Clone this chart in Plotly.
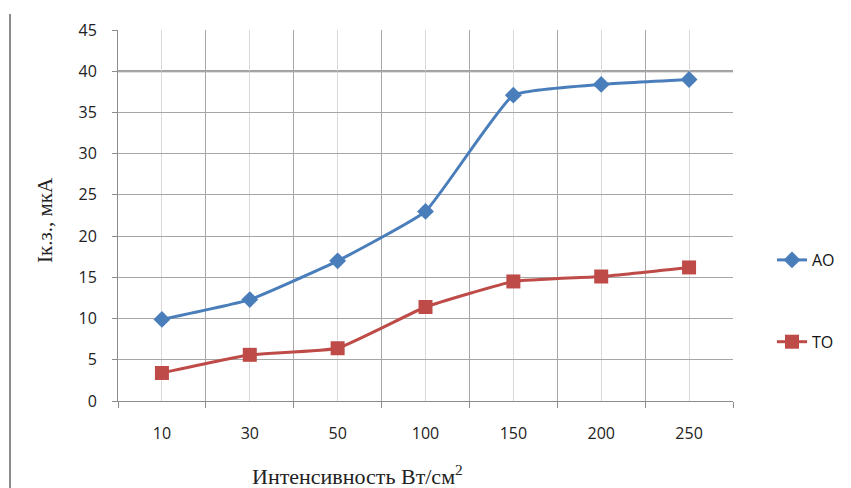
import plotly.graph_objects as go

categories = ["10", "30", "50", "100", "150", "200", "250"]
ao_values = [9.9, 12.3, 17.0, 23.0, 37.1, 38.4, 39.0]
to_values = [3.4, 5.6, 6.4, 11.4, 14.5, 15.1, 16.2]
y_ticks = [0, 5, 10, 15, 20, 25, 30, 35, 40, 45]

idx = list(range(len(categories)))

# page body adds an 8px offset; target plot area in screen px: x 118..733, y 30..401
OFF = 8
PL, PR, PT, PB = 118 - OFF, 733 - OFF, 30 - OFF, 401 - OFF
W, H = 851, 488
PW, PH = PR - PL, PB - PT


def px(sx):
    return (sx - OFF - PL) / PW


def py(sy):
    return (PB - (sy - OFF)) / PH


fig = go.Figure()
fig.add_trace(go.Scatter(
    x=idx, y=ao_values, name="АО", mode="lines+markers",
    line=dict(color="#4A7EBB", width=3, shape="spline", smoothing=0.35),
    marker=dict(symbol="diamond", size=13, color="#4A7EBB"),
    legendgroup="a",
))
fig.add_trace(go.Scatter(
    x=idx, y=to_values, name="ТО", mode="lines+markers",
    line=dict(color="#BE4B48", width=3, shape="spline", smoothing=0.35),
    marker=dict(symbol="square", size=14, color="#BE4B48"),
    legendgroup="b",
))

grid = "#A6A6A6"
fig.update_layout(
    width=W, height=H,
    margin=dict(l=PL, r=W - PR, t=PT, b=H - PB, autoexpand=False),
    paper_bgcolor="white", plot_bgcolor="white",
    font=dict(family="Open Sans, Liberation Sans, sans-serif", size=16, color="#222"),
    legend=dict(x=px(772), y=py(243), xanchor="left", yanchor="top",
                tracegroupgap=58, font=dict(size=16, color="#111"),
                bgcolor="rgba(0,0,0,0)"),
    xaxis=dict(
        range=[-0.5, len(categories) - 0.5],
        tickmode="array", tickvals=idx, ticktext=categories,
        ticks="", showgrid=True, gridcolor="#D9D9D9", gridwidth=1,
        ticklabelstandoff=18,
        showline=True, linecolor="#8C8C8C", linewidth=1,
        zeroline=False,
        minor=dict(tickmode="linear", tick0=-0.5, dtick=1, ticks="outside",
                   ticklen=6, tickcolor="#8C8C8C", showgrid=True,
                   gridcolor=grid, gridwidth=1),
    ),
    yaxis=dict(
        range=[0, 45], tickmode="array", tickvals=y_ticks,
        ticks="outside", ticklen=5, tickcolor="#8C8C8C",
        showgrid=True, gridcolor=grid, gridwidth=1,
        showline=True, linecolor="#8C8C8C", linewidth=1,
        zeroline=False, ticklabelstandoff=12,
    ),
)

fig.add_shape(type="line", xref="paper", yref="y", x0=0, x1=1, y0=40, y1=40,
              line=dict(color="#7F7F7F", width=2), layer="below")

fig.add_shape(type="line", xref="paper", yref="paper",
              x0=px(10), x1=px(10), y0=py(14), y1=py(500),
              line=dict(color="#8C8C8C", width=2))

fig.add_annotation(text="Iк.з., мкА", xref="paper", yref="paper",
                   x=px(45), y=py(220), xanchor="center", yanchor="middle",
                   textangle=-90, showarrow=False,
                   font=dict(family="Liberation Serif, serif", size=21, color="#222"))
fig.add_annotation(text="Интенсивность Вт/см<sup>2</sup>", xref="paper", yref="paper",
                   x=px(357), y=py(475), xanchor="center", yanchor="middle",
                   showarrow=False,
                   font=dict(family="Liberation Serif, serif", size=22, color="#222"))

fig.write_html("out.html")
